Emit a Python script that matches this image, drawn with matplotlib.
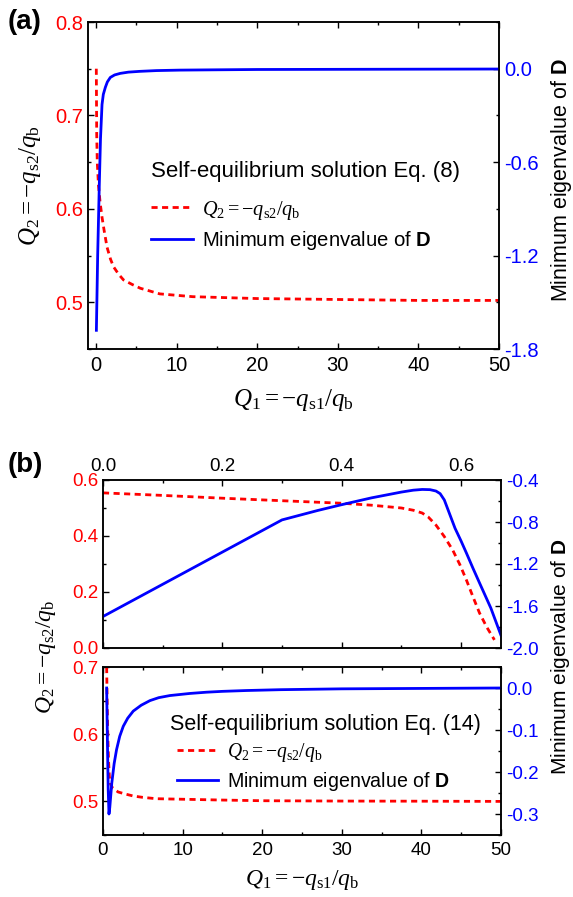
import matplotlib
matplotlib.use('Agg')
import matplotlib.pyplot as plt
from matplotlib.ticker import MultipleLocator

plt.rcParams['font.family'] = ['Liberation Sans', 'DejaVu Sans']
plt.rcParams['mathtext.fontset'] = 'custom'
plt.rcParams['mathtext.rm'] = 'Liberation Serif'
plt.rcParams['mathtext.it'] = 'Liberation Serif:italic'
plt.rcParams['mathtext.bf'] = 'Liberation Sans:bold'

RED = '#ff0000'
BLUE = '#0000ff'

Q2_LABEL = r'$Q_2=-q_{\mathrm{s2}}/q_{\mathrm{b}}$'
Q1_LABEL = r'$Q_1=-q_{\mathrm{s1}}/q_{\mathrm{b}}$'
EIG_LABEL = r'Minimum eigenvalue of $\mathbf{D}$'

# ---- panel (a): Eq. (8)
a_q1_red = [0.03, 0.08, 0.15, 0.3, 0.5, 0.74, 1.0, 1.36, 1.8, 2.17, 2.8, 3.4, 4.5,
            5.5, 7.9, 12, 20, 30, 40, 50]
a_q2_red = [0.75, 0.68, 0.65, 0.625, 0.607, 0.591, 0.577, 0.559, 0.546, 0.538, 0.53,
            0.524, 0.519, 0.515, 0.509, 0.506, 0.504, 0.503, 0.502, 0.502]
a_q1_blue = [0.04, 0.2, 0.4, 0.55, 0.74, 0.9, 1.15, 1.4, 1.77, 2.3, 3.0, 4.0, 5.4,
             7.5, 10.4, 15, 20, 30, 40, 50]
a_eig_blue = [-1.68, -1.2, -0.75, -0.45, -0.23, -0.165, -0.12, -0.085, -0.056, -0.04,
              -0.03, -0.022, -0.017, -0.012, -0.009, -0.007, -0.005, -0.004, -0.003, -0.002]

# ---- panel (b) top: zoom on small Q1
bt_q1_red = [0.0, 0.1, 0.2, 0.3, 0.4, 0.45, 0.5, 0.52, 0.535, 0.545, 0.558, 0.572,
             0.586, 0.598, 0.609, 0.62, 0.631, 0.643, 0.656]
bt_q2_red = [0.554, 0.545, 0.535, 0.526, 0.517, 0.51, 0.5, 0.492, 0.482, 0.468, 0.439,
             0.398, 0.35, 0.298, 0.243, 0.183, 0.125, 0.075, 0.029]
bt_q1_blue = [0.0, 0.30, 0.33, 0.36, 0.40, 0.45, 0.50, 0.52, 0.535, 0.548, 0.558,
              0.565, 0.572, 0.58, 0.59, 0.60, 0.609, 0.62, 0.631, 0.65, 0.667]
bt_eig_blue = [-1.70, -0.78, -0.735, -0.69, -0.635, -0.57, -0.515, -0.497, -0.49,
               -0.492, -0.505, -0.53, -0.59, -0.71, -0.86, -0.98, -1.095, -1.24,
               -1.38, -1.62, -1.88]

# ---- panel (b) bottom: Eq. (14)
bb_q1_red = [0.46, 0.52, 0.6, 0.7, 0.8, 0.9, 1.2, 1.9, 2.8, 3.8, 5.0, 6.7, 10.9, 15,
             20, 30, 40, 50]
bb_q2_red = [0.70, 0.65, 0.60, 0.56, 0.537, 0.527, 0.52, 0.514, 0.511, 0.508, 0.506,
             0.504, 0.503, 0.502, 0.501, 0.5005, 0.5003, 0.5]
bb_q1_blue = [0.46, 0.55, 0.65, 0.75, 0.85, 1.1, 1.4, 1.7, 2.1, 2.55, 3.1, 3.8, 4.8,
              5.9, 7.0, 8.4, 10.9, 13, 15, 18, 22.3, 30, 40, 50]
bb_eig_blue = [0.0, -0.12, -0.24, -0.30, -0.285, -0.227, -0.18, -0.147, -0.115, -0.091,
               -0.072, -0.055, -0.041, -0.03, -0.023, -0.018, -0.013, -0.010, -0.008,
               -0.006, -0.004, -0.002, -0.001, 0.0]


def style_axes(ax, ax2, fs):
    for a in (ax, ax2):
        for s in a.spines.values():
            s.set_linewidth(1.1)
    ax.tick_params(which='both', direction='in', top=True, labelsize=fs, width=1.0)
    ax.tick_params(which='major', length=4)
    ax.tick_params(which='minor', length=2.5)
    ax.tick_params(axis='y', labelcolor=RED)
    ax2.tick_params(which='both', direction='in', labelsize=fs, width=1.0)
    ax2.tick_params(which='major', length=4)
    ax2.tick_params(which='minor', length=2.5)
    ax2.tick_params(axis='y', labelcolor=BLUE)


fig = plt.figure(figsize=(5.73, 8.97), dpi=100)
W, H = 573.0, 897.0


def box(x0, y0, x1, y1):
    return [x0 / W, 1 - y1 / H, (x1 - x0) / W, (y1 - y0) / H]


# ---------------- (a)
ax = fig.add_axes(box(88, 22, 499, 349))
ax2 = ax.twinx()
l_red, = ax.plot(a_q1_red, a_q2_red, color=RED, ls=(0, (2.2, 1.6)), lw=2.0)
l_blue, = ax2.plot(a_q1_blue, a_eig_blue, color=BLUE, lw=2.0)
ax.set_xlim(-1, 50)
ax.set_ylim(0.45, 0.8)
ax2.set_ylim(-1.8, 0.3)
ax.xaxis.set_major_locator(MultipleLocator(10))
ax.xaxis.set_minor_locator(MultipleLocator(5))
ax.yaxis.set_major_locator(MultipleLocator(0.1))
ax.yaxis.set_minor_locator(MultipleLocator(0.05))
ax2.yaxis.set_major_locator(MultipleLocator(0.6))
ax2.yaxis.set_minor_locator(MultipleLocator(0.3))
ax.yaxis.set_major_formatter(lambda v, p: f'{v:.1f}')
ax2.yaxis.set_major_formatter(lambda v, p: f'{v:.1f}')
style_axes(ax, ax2, 14.5)
ax.tick_params(axis='x', pad=5)

ax.text(0.1526, 0.542, 'Self-equilibrium solution Eq. (8)', transform=ax.transAxes,
        fontsize=16, va='center', ha='left')
ax.legend([l_red, l_blue], [Q2_LABEL, EIG_LABEL], loc='upper left',
          bbox_to_anchor=(0.1526, 0.46), frameon=False, fontsize=14.6,
          handlelength=2.1, handletextpad=0.45, labelspacing=0.35,
          borderpad=0, borderaxespad=0)

fig.text(0.5 * (88 + 499) / W, 1 - 400 / H, Q1_LABEL, fontsize=18, ha='center', va='center')
fig.text(30 / W, 1 - 186 / H, Q2_LABEL, fontsize=18, rotation=90, ha='center', va='center')
fig.text(561 / W, 1 - 180 / H, EIG_LABEL, fontsize=15.5, rotation=90, ha='center', va='center')
fig.text(8 / W, 1 - 22 / H, '(a)', fontsize=20, fontweight='bold', ha='left', va='center')

# ---------------- (b) top
bt = fig.add_axes(box(103, 480, 501, 648))
bt2 = bt.twinx()
bt.plot(bt_q1_red, bt_q2_red, color=RED, ls=(0, (2.2, 1.6)), lw=2.0)
bt2.plot(bt_q1_blue, bt_eig_blue, color=BLUE, lw=2.0)
bt.set_xlim(0, 0.667)
bt.set_ylim(0, 0.6)
bt2.set_ylim(-2.0, -0.4)
bt.xaxis.set_major_locator(MultipleLocator(0.2))
bt.xaxis.set_minor_locator(MultipleLocator(0.1))
bt.yaxis.set_major_locator(MultipleLocator(0.2))
bt.yaxis.set_minor_locator(MultipleLocator(0.1))
bt2.yaxis.set_major_locator(MultipleLocator(0.4))
bt2.yaxis.set_minor_locator(MultipleLocator(0.2))
for a in (bt, bt2):
    a.xaxis.set_major_formatter(lambda v, p: f'{v:.1f}')
    a.yaxis.set_major_formatter(lambda v, p: f'{v:.1f}')
style_axes(bt, bt2, 13.5)
bt.tick_params(axis='x', labeltop=True, labelbottom=False)

# ---------------- (b) bottom
bb = fig.add_axes(box(103, 667, 501, 835))
bb2 = bb.twinx()
m_red, = bb.plot(bb_q1_red, bb_q2_red, color=RED, ls=(0, (2.2, 1.6)), lw=2.0)
m_blue, = bb2.plot(bb_q1_blue, bb_eig_blue, color=BLUE, lw=2.0)
bb.set_xlim(0, 50)
bb.set_ylim(0.45, 0.7)
bb2.set_ylim(-0.35, 0.05)
bb.xaxis.set_major_locator(MultipleLocator(10))
bb.xaxis.set_minor_locator(MultipleLocator(5))
bb.yaxis.set_major_locator(MultipleLocator(0.1))
bb.yaxis.set_minor_locator(MultipleLocator(0.05))
bb2.yaxis.set_major_locator(MultipleLocator(0.1))
bb2.yaxis.set_minor_locator(MultipleLocator(0.05))
bb.yaxis.set_major_formatter(lambda v, p: f'{v:.1f}')
bb2.yaxis.set_major_formatter(lambda v, p: f'{v:.1f}')
style_axes(bb, bb2, 13.5)
bb.tick_params(axis='x', pad=5)

bb.text(0.168, 0.655, 'Self-equilibrium solution Eq. (14)', transform=bb.transAxes,
        fontsize=15.5, va='center', ha='left')
bb.legend([m_red, m_blue], [Q2_LABEL, EIG_LABEL], loc='upper left',
          bbox_to_anchor=(0.185, 0.56), frameon=False, fontsize=14.1,
          handlelength=2.1, handletextpad=0.45, labelspacing=0.3,
          borderpad=0, borderaxespad=0)

fig.text(0.5 * (103 + 501) / W, 1 - 880 / H, Q1_LABEL, fontsize=17, ha='center', va='center')
fig.text(46 / W, 1 - 657 / H, Q2_LABEL, fontsize=17, rotation=90, ha='center', va='center')
fig.text(561 / W, 1 - 657 / H, EIG_LABEL, fontsize=15, rotation=90, ha='center', va='center')
fig.text(8 / W, 1 - 465 / H, '(b)', fontsize=20, fontweight='bold', ha='left', va='center')

fig.savefig('out.png', dpi=100)
